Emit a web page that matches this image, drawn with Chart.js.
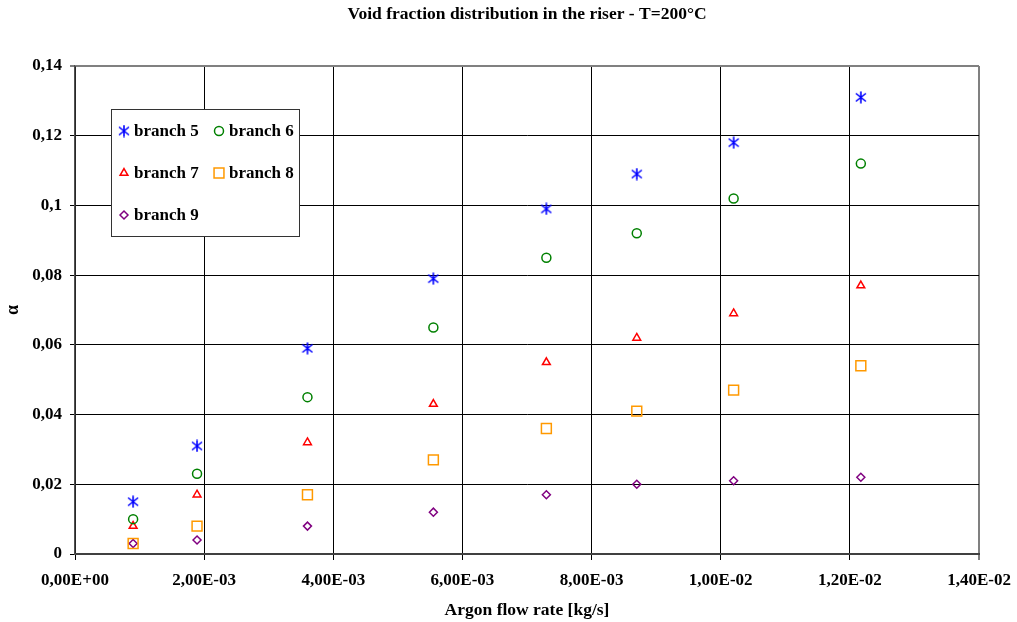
<!DOCTYPE html>
<html>
<head>
<meta charset="utf-8">
<script src="https://cdn.jsdelivr.net/npm/chart.js@4/dist/chart.umd.min.js"></script>
<style>
  html, body { margin: 0; padding: 0; background: #fff; }
  #wrap { width: 1017px; height: 622px; position: relative; }
</style>
</head>
<body>
<div id="wrap"><canvas id="voidChart"></canvas></div>
<script>
// argon flow rate [kg/s]
var flowRates = [0.0009, 0.00189, 0.0036, 0.00555, 0.0073, 0.0087, 0.0102, 0.01217];

var branch5 = [0.015, 0.031, 0.059, 0.079, 0.099, 0.109, 0.118, 0.131];
var branch6 = [0.010, 0.023, 0.045, 0.065, 0.085, 0.092, 0.102, 0.112];
var branch7 = [0.008, 0.017, 0.032, 0.043, 0.055, 0.062, 0.069, 0.077];
var branch8 = [0.003, 0.008, 0.017, 0.027, 0.036, 0.041, 0.047, 0.054];
var branch9 = [0.003, 0.004, 0.008, 0.012, 0.017, 0.020, 0.021, 0.022];

var xTickLabels = ["0,00E+00", "2,00E-03", "4,00E-03", "6,00E-03", "8,00E-03", "1,00E-02", "1,20E-02", "1,40E-02"];
var yTickLabels = ["0", "0,02", "0,04", "0,06", "0,08", "0,1", "0,12", "0,14"];

var seriesNames = ["branch 5", "branch 6", "branch 7", "branch 8", "branch 9"];

function pts(ys) {
  return ys.map(function(y, i) { return {x: flowRates[i], y: y}; });
}

// excel-like asterisk marker
var star = document.createElement('canvas');
star.width = 12; star.height = 13;
(function() {
  var c = star.getContext('2d');
  c.strokeStyle = '#0000FF';
  c.lineWidth = 1.6;
  c.beginPath();
  c.moveTo(6, 0.5); c.lineTo(6, 12.5);
  c.moveTo(1, 2.5); c.lineTo(11, 10.5);
  c.moveTo(11, 2.5); c.lineTo(1, 10.5);
  c.stroke();
})();

var fontFam = "'Liberation Serif', 'Times New Roman', serif";

var legendBox = {
  id: 'legendBox',
  afterDraw: function(chart) {
    var ctx = chart.ctx;
    var L = 111, T = 109, W = 188, H = 127;
    ctx.save();
    ctx.fillStyle = '#fff';
    ctx.fillRect(L, T, W, H);
    ctx.strokeStyle = '#333';
    ctx.lineWidth = 1;
    ctx.strokeRect(L + 0.5, T + 0.5, W, H);
    var slots = [[124, 131], [219, 131], [124, 173], [219, 173], [124, 215]];
    ctx.textBaseline = 'middle';
    chart.data.datasets.forEach(function(ds, i) {
      var s = slots[i];
      ctx.strokeStyle = ds.borderColor;
      ctx.fillStyle = 'rgba(0,0,0,0)';
      ctx.lineWidth = ds.borderWidth;
      Chart.helpers.drawPoint(ctx, {pointStyle: ds.pointStyle, radius: ds.pointRadius, borderWidth: ds.borderWidth, rotation: 0}, s[0], s[1]);
      ctx.fillStyle = '#000';
      ctx.font = 'bold 17px ' + fontFam;
      ctx.fillText(ds.label, s[0] + 10, s[1] + 1);
    });
    ctx.restore();
  }
};

new Chart(document.getElementById('voidChart'), {
  type: 'scatter',
  data: {
    datasets: [
      {label: seriesNames[0], data: pts(branch5), pointStyle: star, pointRadius: 6, borderColor: '#0000FF', backgroundColor: '#0000FF', borderWidth: 1.5},
      {label: seriesNames[1], data: pts(branch6), pointStyle: 'circle', pointRadius: 4.5, borderColor: '#008000', backgroundColor: 'rgba(0,0,0,0)', borderWidth: 1.5},
      {label: seriesNames[2], data: pts(branch7), pointStyle: 'triangle', pointRadius: 4.5, borderColor: '#FF0000', backgroundColor: 'rgba(0,0,0,0)', borderWidth: 1.5},
      {label: seriesNames[3], data: pts(branch8), pointStyle: 'rect', pointRadius: 7, borderColor: '#FF9900', backgroundColor: 'rgba(0,0,0,0)', borderWidth: 1.5},
      {label: seriesNames[4], data: pts(branch9), pointStyle: 'rectRot', pointRadius: 4, borderColor: '#800080', backgroundColor: 'rgba(0,0,0,0)', borderWidth: 1.5}
    ]
  },
  options: {
    responsive: true,
    maintainAspectRatio: false,
    animation: false,
    layout: {padding: {left: 0, right: 38, top: 0, bottom: 0}},
    plugins: {
      legend: {display: false},
      tooltip: {enabled: false},
      title: {
        display: true,
        fullSize: false,
        text: 'Void fraction distribution in the riser - T=200°C',
        color: '#000',
        font: {family: fontFam, size: 17.5, weight: 'bold', lineHeight: 1.2},
        padding: {top: 4, bottom: 41}
      }
    },
    scales: {
      x: {
        type: 'linear',
        min: 0, max: 0.014,
        afterFit: function(s) { s.height = 68; s.paddingLeft = 0; s.paddingRight = 0; },
        ticks: {
          stepSize: 0.002,
          color: '#000',
          padding: 10,
          maxRotation: 0,
          font: {family: fontFam, size: 17, weight: 'bold'},
          callback: function(v, i) { return xTickLabels[i]; }
        },
        grid: {
          color: function(c) { return c.index === 7 ? '#808080' : '#000'; },
          lineWidth: function(c) { return c.index === 7 ? 2 : 1; },
          tickLength: 6
        },
        border: {color: '#404040', width: 2},
        title: {
          display: true,
          text: 'Argon flow rate [kg/s]',
          color: '#000',
          font: {family: fontFam, size: 17.5, weight: 'bold'},
          padding: {top: 0, bottom: 1}
        }
      },
      y: {
        min: 0, max: 0.14,
        afterFit: function(s) { s.width = 75; },
        ticks: {
          stepSize: 0.02,
          color: '#000',
          padding: 8,
          font: {family: fontFam, size: 17, weight: 'bold'},
          callback: function(v, i) { return yTickLabels[i]; }
        },
        grid: {
          color: function(c) { return c.index === 7 ? '#808080' : '#000'; },
          lineWidth: function(c) { return c.index === 7 ? 2 : 1; },
          tickLength: 5
        },
        border: {color: '#505050', width: 1.5},
        title: {
          display: true,
          text: 'α',
          color: '#000',
          font: {family: fontFam, size: 18, weight: 'bold'},
          padding: {top: 3, bottom: 0}
        }
      }
    }
  },
  plugins: [legendBox]
});
</script>
</body>
</html>
